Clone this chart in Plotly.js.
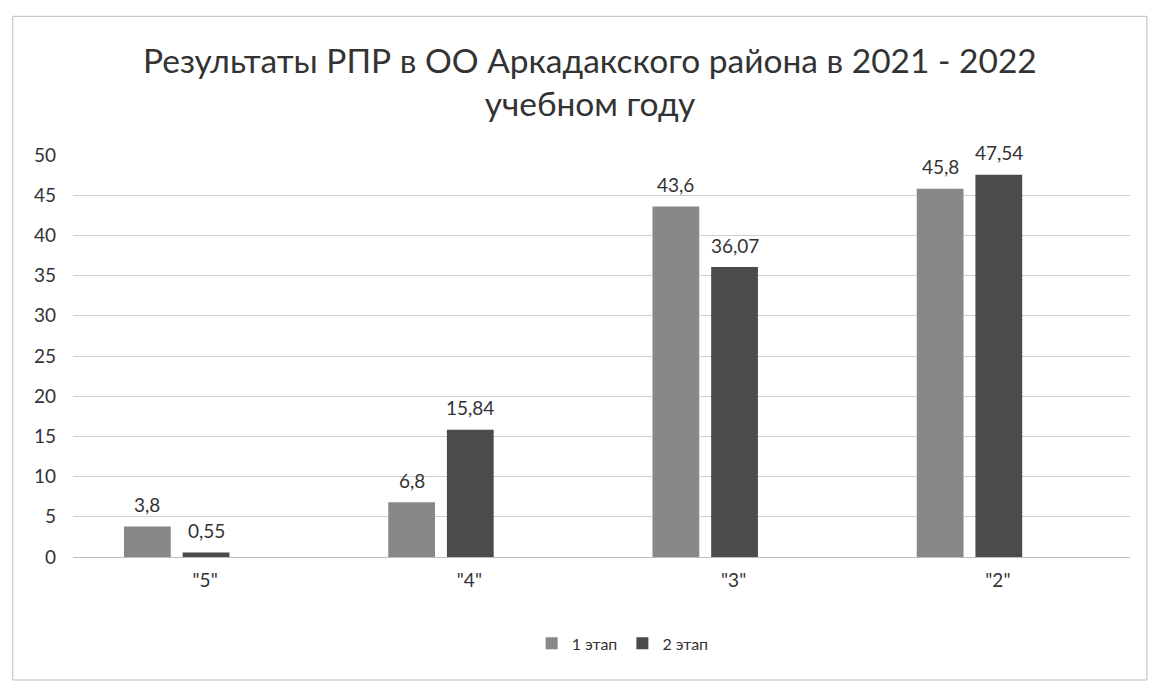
<!DOCTYPE html>
<html><head><meta charset="utf-8">
<script src="https://cdn.plot.ly/plotly-3.0.1.min.js"></script>
<style>body{margin:0;background:#fff}#c{width:1150px;height:684px}</style>
</head><body><div id="c"></div>
<script>
const categories = ['"5"', '"4"', '"3"', '"2"'];
const stage1 = [3.8, 6.8, 43.6, 45.8];
const stage2 = [0.55, 15.84, 36.07, 47.54];
const seriesNames = ['1 этап', '2 этап'];
const fmt = v => String(v).replace('.', ',');
const font = 'Lato, "Open Sans", sans-serif';
// bar placement inside each category (fraction of category width)
const barW = 0.177, off1 = -0.307, off2 = -0.085;
const traces = [
  {type:'bar', name:seriesNames[0], x:categories, y:stage1, marker:{color:'#888888'}, width:barW, offset:off1},
  {type:'bar', name:seriesNames[1], x:categories, y:stage2, marker:{color:'#4b4b4b'}, width:barW, offset:off2}
];
const annotations = [];
[[stage1, off1], [stage2, off2]].forEach(([vals, off]) => {
  vals.forEach((v, i) => annotations.push({
    x: i + off + barW / 2, y: v, xref:'x', yref:'y', text: fmt(v), showarrow:false,
    yanchor:'middle', yshift:22, font:{size:19, color:'#333', family:font}
  }));
});
const layout = {
  width:1150, height:684,
  paper_bgcolor:'#fff', plot_bgcolor:'#fff',
  font:{family:font, color:'#333', size:19},
  title:{text:'Результаты РПР в ОО Аркадакского района в 2021 - 2022<br>учебном году', x:0.513, xanchor:'center', y:0.894, yanchor:'middle', font:{size:33.5, color:'#333', family:font}},
  margin:{l:73, r:20, t:155, b:127},
  barmode:'overlay',
  xaxis:{type:'category', categoryorder:'array', categoryarray:categories, range:[-0.5, 3.5], showgrid:false, showline:false, ticks:'', tickfont:{size:19,color:'#333'}, ticklabelstandoff:10},
  yaxis:{range:[0,50], dtick:5, showgrid:true, gridcolor:'#cfcfcf', gridwidth:1, zeroline:true, zerolinecolor:'#bdbdbd', zerolinewidth:1, showline:false, ticks:'', tickfont:{size:19,color:'#333'}, ticklabelstandoff:16},
  showlegend:true,
  legend:{orientation:'h', x:0.52, xanchor:'center', y:-0.215, yanchor:'middle', font:{size:16,color:'#333'}, itemwidth:30, tracegroupgap:0},
  annotations: annotations,
  shapes:[{type:'rect', xref:'paper', yref:'paper', x0:-0.057, x1:1.016, y0:-0.306, y1:1.345, line:{color:'#bbb', width:1}, fillcolor:'rgba(0,0,0,0)'}]
};
Plotly.newPlot('c', traces, layout, {displayModeBar:false, staticPlot:true});
</script></body></html>
